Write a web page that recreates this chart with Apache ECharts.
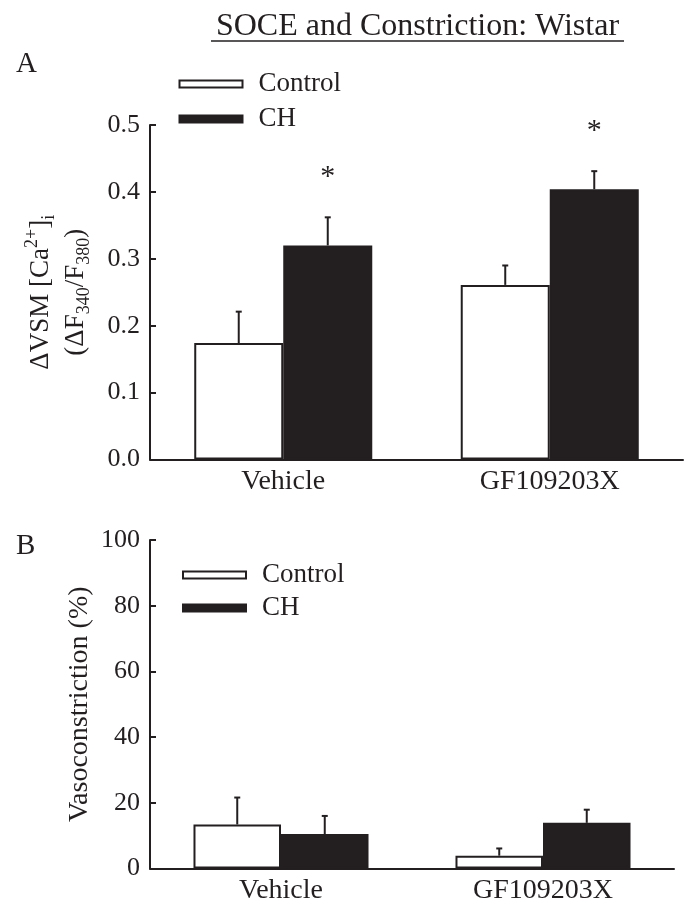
<!DOCTYPE html>
<html>
<head>
<meta charset="utf-8">
<script src="https://cdn.jsdelivr.net/npm/echarts@6/dist/echarts.min.js"></script>
<style>
html,body{margin:0;padding:0;background:#fff;}
#chart{width:699px;height:920px;}
</style>
</head>
<body>
<div id="chart"></div>
<script>
// ---------- data ----------
const categories = ['Vehicle', 'GF109203X'];
const seriesNames = ['Control', 'CH'];
// Panel A: ΔVSM [Ca2+]i (ΔF340/F380)
const aControlMean = [0.174, 0.261];
const aControlSem  = [0.047, 0.029];
const aCHMean      = [0.320, 0.404];
const aCHSem       = [0.042, 0.027];
const aCHStar      = [1, 1];
const aTicks = ['0.0', '0.1', '0.2', '0.3', '0.4', '0.5'];
// Panel B: Vasoconstriction (%)
const bControlMean = [13.4, 3.9];
const bControlSem  = [8.2, 2.2];
const bCHMean      = [10.5, 13.9];
const bCHSem       = [5.5, 4.0];
const bCHStar      = [0, 0];
const bTicks = ['0', '20', '40', '60', '80', '100'];

// ---------- style ----------
const INK = '#231f20';
const FONT = '"Liberation Serif", "Times New Roman", Times, serif';
const BAR_RATIO = 0.334;

function errData(mean, sem, star) {
  return mean.map((m, i) => [i, m, sem[i], star ? star[i] : 0]);
}

function errRender(side) {
  return function (params, api) {
    const cat = api.value(0), mean = api.value(1), sem = api.value(2), star = api.value(3);
    const p0 = api.coord([cat, mean]);
    const p1 = api.coord([cat, mean + sem]);
    const band = api.size([1, 0])[0];
    const x = p0[0] + side * band * BAR_RATIO / 2;
    const children = [
      { type: 'line', shape: { x1: x, y1: p0[1], x2: x, y2: p1[1] }, style: { stroke: INK, lineWidth: 2 } },
      { type: 'line', shape: { x1: x - 3, y1: p1[1], x2: x + 3, y2: p1[1] }, style: { stroke: INK, lineWidth: 2 } }
    ];
    if (star) {
      children.push({ type: 'text', style: { text: '*', x: x, y: p1[1] - 40, textAlign: 'center', textVerticalAlign: 'middle', font: '30px ' + FONT, fill: INK } });
    }
    return { type: 'group', children: children };
  };
}

function barSeries(name, data, gi, isCH) {
  return {
    type: 'bar', name: name, xAxisIndex: gi, yAxisIndex: gi, data: data,
    barWidth: (BAR_RATIO * 100) + '%', barGap: '0%',
    itemStyle: { color: isCH ? INK : '#ffffff', borderColor: INK, borderWidth: 2 },
    emphasis: { disabled: true }, animation: false
  };
}

function errSeries(mean, sem, star, gi, side) {
  return {
    type: 'custom', name: 'err' + gi + side, xAxisIndex: gi, yAxisIndex: gi,
    data: errData(mean, sem, star), renderItem: errRender(side), z: 5,
    animation: false, silent: true
  };
}

const axisLineStyle = { show: true, lineStyle: { color: INK, width: 2 } };

function xAxisCfg(gi) {
  return {
    type: 'category', gridIndex: gi, data: categories,
    axisLine: axisLineStyle, axisTick: { show: false },
    axisLabel: { color: INK, fontFamily: FONT, fontSize: 28, margin: 8 }
  };
}

function yAxisCfg(gi, max, interval, ticks, name, gap, rich) {
  return {
    type: 'value', gridIndex: gi, min: 0, max: max, interval: interval,
    axisLine: axisLineStyle,
    axisTick: { show: true, inside: true, length: 6, lineStyle: { color: INK, width: 2 } },
    splitLine: { show: false },
    axisLabel: {
      color: INK, fontFamily: FONT, fontSize: 26, margin: 10,
      formatter: function (v) { return ticks[Math.round(v / interval)]; }
    },
    name: name, nameLocation: 'middle', nameRotate: 90, nameGap: gap,
    nameMoveOverlap: false,
    nameTextStyle: Object.assign({ color: INK, fontFamily: FONT, fontSize: 28 }, rich || {})
  };
}

function legendCfg(top, left, gap) {
  return {
    data: seriesNames, orient: 'vertical', left: left, top: top,
    itemWidth: 63, itemHeight: 7, itemGap: gap, icon: 'rect',
    selectedMode: false,
    textStyle: { color: INK, fontFamily: FONT, fontSize: 27, lineHeight: 27, padding: [0, 0, 0, 11] }
  };
}

const aName = '{a|ΔVSM [Ca}{sup|2+}{a|]}{sub|i}\n{a|(ΔF}{sub|340}{a|/F}{sub|380}{a|)}';
const aRich = {
  lineHeight: 35,
  rich: {
    a: { fontFamily: FONT, fontSize: 27, lineHeight: 35, color: INK },
    sup: { fontFamily: FONT, fontSize: 18, lineHeight: 18, verticalAlign: 'top', color: INK },
    sub: { fontFamily: FONT, fontSize: 18, lineHeight: 22, verticalAlign: 'bottom', color: INK }
  }
};

const chart = echarts.init(document.getElementById('chart'), null, { renderer: 'canvas' });
chart.setOption({
  backgroundColor: '#ffffff',
  animation: false,
  grid: [
    { left: 150, right: 16, top: 125, height: 334.5 },
    { left: 150, right: 25, top: 540, height: 328.5 }
  ],
  legend: [legendCfg(65.5, 173.5, 8), legendCfg(556.5, 177, 6)],
  xAxis: [xAxisCfg(0), xAxisCfg(1)],
  yAxis: [
    yAxisCfg(0, 0.5, 0.1, aTicks, aName, 57, aRich),
    yAxisCfg(1, 100, 20, bTicks, 'Vasoconstriction (%)', 56)
  ],
  graphic: [
    { type: 'text', x: 417.5, y: 26.7, style: { text: 'SOCE and Constriction: Wistar', textAlign: 'center', textVerticalAlign: 'middle', font: '32px ' + FONT, fill: INK } },
    { type: 'line', shape: { x1: 211, y1: 41, x2: 624, y2: 41 }, style: { stroke: INK, lineWidth: 1.5 } },
    { type: 'text', x: 16, y: 64.5, style: { text: 'A', textAlign: 'left', textVerticalAlign: 'middle', font: '29px ' + FONT, fill: INK } },
    { type: 'text', x: 16, y: 546, style: { text: 'B', textAlign: 'left', textVerticalAlign: 'middle', font: '29px ' + FONT, fill: INK } }
  ],
  series: [
    barSeries('Control', aControlMean, 0, false),
    barSeries('CH', aCHMean, 0, true),
    errSeries(aControlMean, aControlSem, null, 0, -1),
    errSeries(aCHMean, aCHSem, aCHStar, 0, 1),
    barSeries('Control', bControlMean, 1, false),
    barSeries('CH', bCHMean, 1, true),
    errSeries(bControlMean, bControlSem, null, 1, -1),
    errSeries(bCHMean, bCHSem, bCHStar, 1, 1)
  ]
});
</script>
</body>
</html>
